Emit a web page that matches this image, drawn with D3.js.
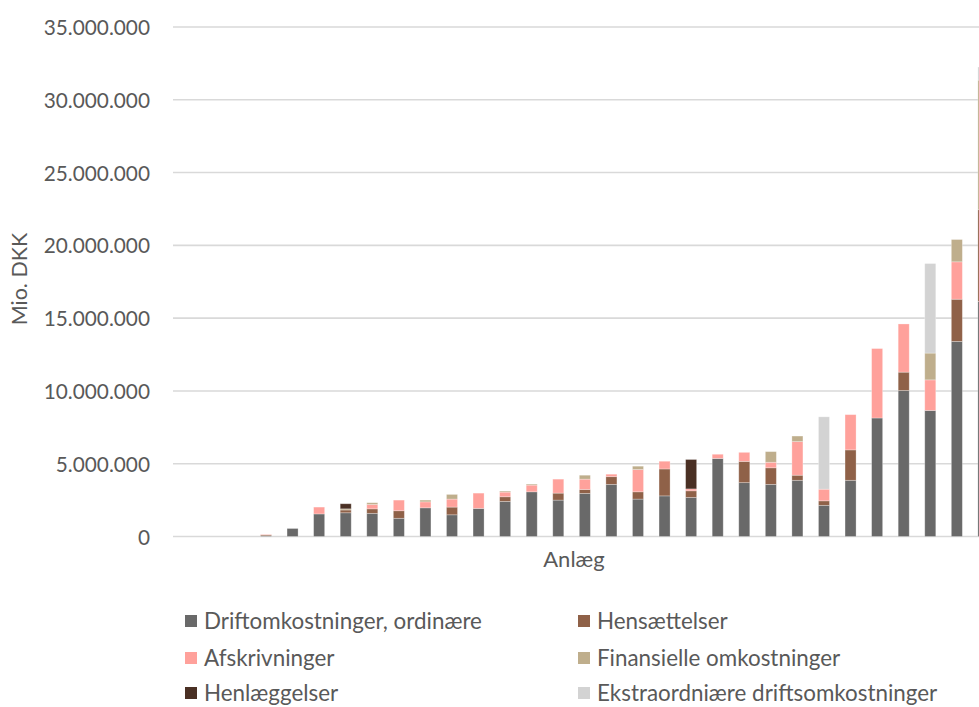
<!DOCTYPE html>
<html>
<head>
<meta charset="utf-8">
<script src="https://cdn.jsdelivr.net/npm/d3@7"></script>
<style>
  html, body { margin: 0; padding: 0; background: #fff; overflow: hidden; }
  svg { display: block; }
  text { font-family: Lato, "Open Sans", sans-serif; fill: #595959; }
</style>
</head>
<body>
<script>
// ---- data (values in million DKK) ----
const categories = d3.range(1, 32).map(String);
const seriesNames = [
  "Driftomkostninger, ordinære",
  "Hensættelser",
  "Afskrivninger",
  "Finansielle omkostninger",
  "Henlæggelser",
  "Ekstraordniære driftsomkostninger"
];
const seriesColors = ["#696969", "#8f6148", "#ffa19b", "#bfae8c", "#4a3024", "#d3d3d3"];

const drift   = [0,0,0,0.04,0.55,1.55,1.63,1.59,1.25,1.97,1.49,1.93,2.41,3.07,2.5,2.96,3.58,2.57,2.79,2.68,5.36,3.7,3.58,3.86,2.14,3.86,8.14,10.03,8.66,13.4,16.15];
const hens    = [0,0,0,0.07,0,0,0.19,0.31,0.52,0,0.53,0,0.32,0,0.48,0.27,0.53,0.5,1.85,0.46,0,1.46,1.14,0.35,0.31,2.09,0,1.26,0,2.9,6.3];
const afskr   = [0,0,0,0.03,0,0.47,0,0.3,0.73,0.41,0.55,1.05,0.32,0.46,0.96,0.71,0.17,1.53,0.53,0.13,0.29,0.62,0.38,2.31,0.8,2.42,4.77,3.31,2.1,2.57,0];
const finans  = [0,0,0,0,0,0,0.08,0.12,0,0.12,0.32,0,0.07,0.07,0,0.27,0,0.23,0,0,0,0,0.73,0.38,0,0,0,0,1.84,1.53,8.9];
const henlaeg = [0,0,0,0,0,0,0.35,0,0,0,0,0,0,0,0,0,0,0,0,2.02,0,0,0,0,0,0,0,0,0,0,0];
const ekstra  = [0,0,0,0,0,0,0,0,0,0,0,0,0,0,0,0,0,0,0,0,0,0,0,0,4.97,0,0,0,6.15,0,0.9];

const yTicks = [0, 5, 10, 15, 20, 25, 30, 35];
const yTitle = "Mio. DKK";
const xTitle = "Anlæg";

// ---- build table ----
const seriesValues = [drift, hens, afskr, finans, henlaeg, ekstra];
const table = categories.map((c, i) => {
  const row = { cat: c };
  seriesNames.forEach((s, k) => row[s] = seriesValues[k][i] * 1e6);
  return row;
});

const W = 979, H = 707;
const svg = d3.select("body").append("svg").attr("width", W).attr("height", H);

const plotLeft = 173, plotRight = 996.7, plotTop = 27, plotBottom = 536.5;

const x = d3.scaleBand().domain(categories).range([plotLeft, plotRight])
  .paddingInner(0.585).paddingOuter(0.2925);
const y = d3.scaleLinear().domain([0, 35e6]).range([plotBottom, plotTop]);

const locale = d3.formatLocale({ decimal: ",", thousands: ".", grouping: [3], currency: ["", " kr"] });
const fmt = locale.format(",.0f");

// gridlines
svg.append("g").selectAll("line").data(yTicks).join("line")
  .attr("x1", plotLeft).attr("x2", plotRight)
  .attr("y1", d => y(d * 1e6)).attr("y2", d => y(d * 1e6))
  .attr("stroke", "#d9d9d9").attr("stroke-width", 1.6);

// y axis labels via d3 axis
const yAxis = d3.axisLeft(y).tickValues(yTicks.map(d => d * 1e6)).tickFormat(fmt).tickSize(0).tickPadding(0);
const gy = svg.append("g").attr("transform", `translate(150,0)`).call(yAxis);
gy.select(".domain").remove();
gy.selectAll("text").attr("font-family", "Lato, 'Open Sans', sans-serif")
  .attr("font-size", 20.8).attr("fill", "#595959").attr("dy", "0.36em");

// stacked bars
const stack = d3.stack().keys(seriesNames);
const stacked = stack(table);
svg.append("g").selectAll("g").data(stacked).join("g")
  .attr("fill", (d, i) => seriesColors[i])
  .selectAll("rect").data(d => d.filter(p => p[1] - p[0] > 0)).join("rect")
  .attr("x", d => x(d.data.cat))
  .attr("width", x.bandwidth())
  .attr("y", d => y(d[1]))
  .attr("height", d => y(d[0]) - y(d[1]))
  .attr("stroke", "rgba(255,255,255,0.35)").attr("stroke-width", 0.8);

// axis titles
svg.append("text").attr("transform", "translate(27,279) rotate(-90)")
  .attr("text-anchor", "middle").attr("font-size", 21.5).text(yTitle);
svg.append("text").attr("x", 574).attr("y", 567)
  .attr("text-anchor", "middle").attr("font-size", 22).text(xTitle);

// legend
const legX = [185, 578], legY = [621, 658, 693];
const leg = svg.append("g").selectAll("g").data(seriesNames).join("g")
  .attr("transform", (d, i) => `translate(${legX[i % 2]},${legY[Math.floor(i / 2)]})`);
leg.append("rect").attr("x", 0).attr("y", -6).attr("width", 12).attr("height", 12)
  .attr("fill", (d, i) => seriesColors[i]);
leg.append("text").attr("x", 19).attr("y", 0).attr("dy", "0.36em")
  .attr("font-size", 22.4).text(d => d);
</script>
</body>
</html>
